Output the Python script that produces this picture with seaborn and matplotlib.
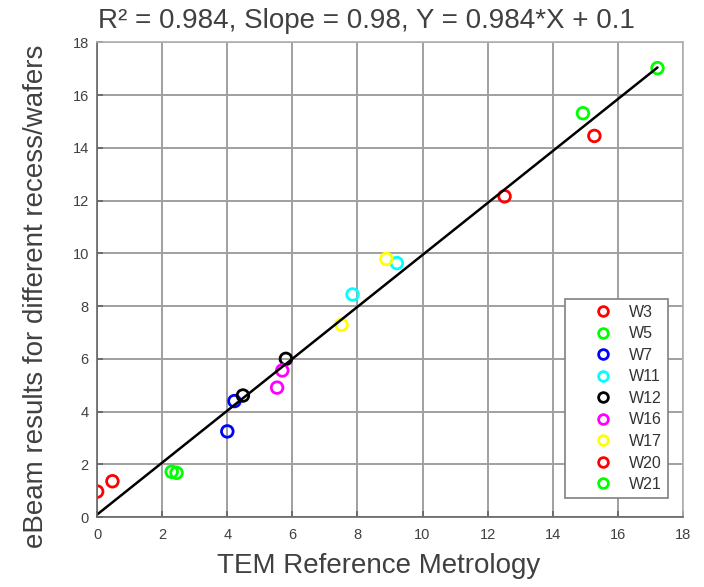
import numpy as np
import pandas as pd
import matplotlib
matplotlib.use('Agg')
import matplotlib.pyplot as plt
import seaborn as sns

# Datos
grupos = ['W3', 'W5', 'W7', 'W11', 'W12', 'W16', 'W17', 'W20', 'W21']
colores = ['#ff0000', '#00ff00', '#0000ff', '#00ffff', '#000000',
           '#ff00ff', '#ffff00', '#ff0000', '#00ff00']
tem_x = {
    'W3': [0.0, 0.47],
    'W5': [2.29, 2.44],
    'W7': [4.0, 4.22],
    'W11': [7.85, 9.21],
    'W12': [4.48, 5.80],
    'W16': [5.69, 5.53],
    'W17': [7.51, 8.89],
    'W20': [12.52, 15.28],
    'W21': [14.93, 17.22],
}
ebeam_y = {
    'W3': [0.97, 1.36],
    'W5': [1.72, 1.68],
    'W7': [3.25, 4.40],
    'W11': [8.44, 9.63],
    'W12': [4.61, 6.00],
    'W16': [5.56, 4.91],
    'W17': [7.29, 9.79],
    'W20': [12.16, 14.45],
    'W21': [15.31, 17.02],
}
pendiente = 0.984
intercepto = 0.1
titulo = 'R² = 0.984, Slope = 0.98, Y = 0.984*X + 0.1'

filas = []
for g in grupos:
    for x, y in zip(tem_x[g], ebeam_y[g]):
        filas.append({'grupo': g, 'tem': x, 'ebeam': y})
df = pd.DataFrame(filas)

sns.set_theme(style='whitegrid')
plt.rcParams['font.family'] = ['Liberation Sans', 'DejaVu Sans']

fig = plt.figure(figsize=(7.04, 5.87), dpi=100)
ax = fig.add_axes([0.138, 0.119, 0.832, 0.809])

sns.scatterplot(data=df, x='tem', y='ebeam', hue='grupo', hue_order=grupos,
                palette=dict(zip(grupos, colores)), marker='o', s=70,
                linewidth=2, ax=ax, legend=False)
# círculos huecos: pasar el color de relleno al borde
for coll in ax.collections:
    fc = coll.get_facecolors()
    coll.set_edgecolors(fc)
    coll.set_facecolors('none')

xs = np.array([0, df['tem'].max()])
ax.plot(xs, pendiente * xs + intercepto, color='black', linewidth=1.8, zorder=1)

ax.set_xlim(0, 18)
ax.set_ylim(0, 18)
ax.set_xticks(range(0, 19, 2))
ax.set_yticks(range(0, 19, 2))
ax.grid(True, color='#a0a0a0', linewidth=1.4)
ax.tick_params(axis='both', labelsize=10.5, labelcolor='#404040', direction='in',
               length=4, color='#666666', bottom=True, left=True)
ax.tick_params(axis='x', pad=8)
ax.tick_params(axis='y', pad=6)
for lado in ['top', 'right']:
    ax.spines[lado].set_color('#b0b0b0')
for lado in ['bottom', 'left']:
    ax.spines[lado].set_color('#666666')
for sp in ax.spines.values():
    sp.set_linewidth(1.2)

ax.set_xlabel('TEM Reference Metrology', fontsize=20, color='#404040')
ax.xaxis.set_label_coords(0.481, -0.075, transform=ax.transAxes)
ax.xaxis.label.set_verticalalignment('top')
ax.set_ylabel('eBeam results for different recess/wafers', fontsize=20,
              color='#404040')
ax.yaxis.set_label_coords(-0.083, 0.464, transform=ax.transAxes)
ax.set_title(titulo, fontsize=20, color='#404040', x=0.46, pad=10)

handles = [plt.Line2D([], [], linestyle='none', marker='o', markersize=7,
                      markerfacecolor='none', markeredgecolor=c, markeredgewidth=2)
           for c in colores]
leg = ax.legend(handles, grupos, loc='lower right', bbox_to_anchor=(0.974, 0.04),
                fontsize=11.5, frameon=True, fancybox=False, framealpha=1,
                edgecolor='#808080', handlelength=4.0, handletextpad=-0.375,
                labelspacing=0.41, borderpad=0.38, borderaxespad=0)
leg.get_frame().set_linewidth(1.2)
for t in leg.get_texts():
    t.set_color('#333333')

fig.savefig('out.png', dpi=100)
